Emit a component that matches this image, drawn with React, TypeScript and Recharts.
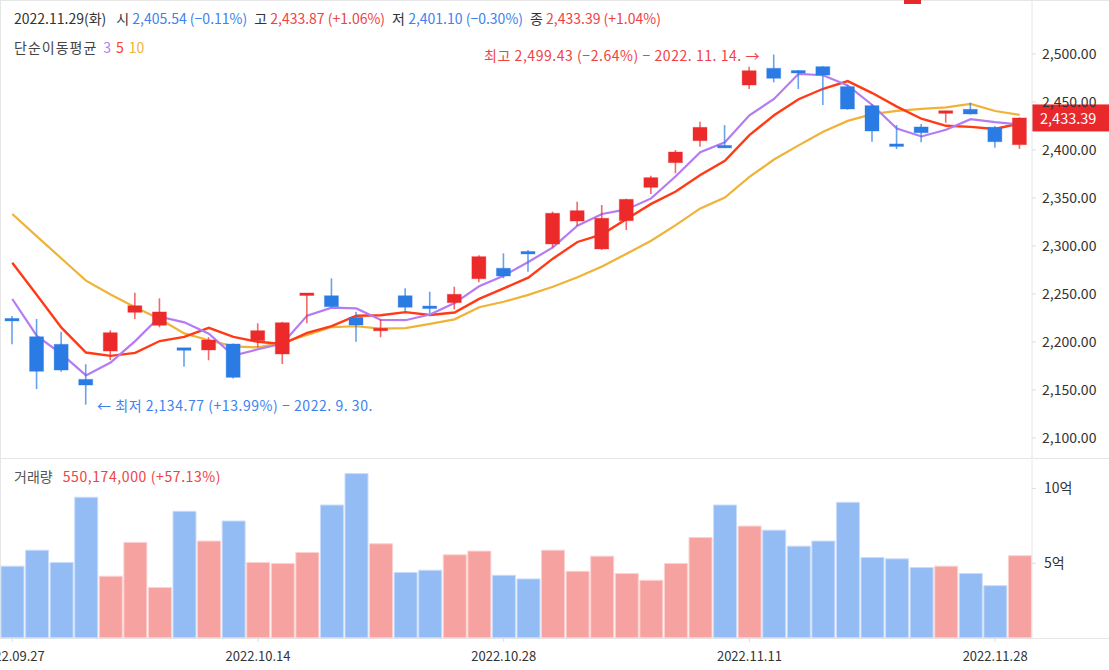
import React from 'react';
import { ComposedChart, Bar, Line, XAxis, YAxis, Cell, ReferenceDot, ReferenceLine } from 'recharts';

// trading days shown on the chart (one bar each)
const DATES = [
  '2022.09.27', '2022.09.28', '2022.09.29', '2022.09.30', '2022.10.04', '2022.10.06', '2022.10.07',
  '2022.10.11', '2022.10.12', '2022.10.13', '2022.10.14', '2022.10.17', '2022.10.18', '2022.10.19',
  '2022.10.20', '2022.10.21', '2022.10.24', '2022.10.25', '2022.10.26', '2022.10.27', '2022.10.28',
  '2022.10.31', '2022.11.01', '2022.11.02', '2022.11.03', '2022.11.04', '2022.11.07', '2022.11.08',
  '2022.11.09', '2022.11.10', '2022.11.11', '2022.11.14', '2022.11.15', '2022.11.16', '2022.11.17',
  '2022.11.18', '2022.11.21', '2022.11.22', '2022.11.23', '2022.11.24', '2022.11.28', '2022.11.29',
];

const OPEN = [
  2223.6, 2205.5, 2197.6, 2161.1, 2190.6, 2230.9, 2217.4, 2193.0, 2191.7, 2197.9, 2201.4, 2187.5,
  2249.0, 2248.2, 2225.7, 2211.8, 2248.2, 2236.8, 2241.0, 2265.9, 2276.8, 2293.5, 2302.1, 2326.0,
  2296.9, 2326.4, 2361.1, 2386.8, 2409.7, 2404.6, 2467.7, 2485.1, 2482.0, 2486.8, 2466.0, 2446.2,
  2405.5, 2424.0, 2438.2, 2442.4, 2423.6, 2405.54,
];
const HIGH = [
  2227.0, 2224.0, 2210.7, 2176.8, 2212.2, 2251.4, 2245.5, 2193.5, 2205.0, 2198.5, 2219.5, 2221.0,
  2251.0, 2266.3, 2231.6, 2223.6, 2255.9, 2252.4, 2257.6, 2290.3, 2292.4, 2295.8, 2335.8, 2346.1,
  2342.7, 2349.2, 2373.2, 2400.0, 2429.5, 2426.0, 2486.8, 2499.43, 2483.3, 2487.2, 2467.7, 2447.6,
  2426.0, 2427.1, 2441.0, 2449.3, 2425.0, 2433.87,
];
const LOW = [
  2197.6, 2151.0, 2169.0, 2134.77, 2181.2, 2224.0, 2215.3, 2174.3, 2181.0, 2162.0, 2194.5, 2177.1,
  2219.5, 2236.0, 2200.3, 2204.9, 2231.6, 2229.9, 2234.0, 2262.2, 2266.4, 2273.3, 2298.6, 2320.8,
  2296.0, 2316.7, 2354.2, 2375.7, 2403.4, 2402.0, 2463.5, 2470.5, 2463.5, 2446.9, 2442.0, 2408.6,
  2401.0, 2408.0, 2428.4, 2437.0, 2402.4, 2401.1,
];
const CLOSE = [
  2222.9, 2169.5, 2170.8, 2155.2, 2209.7, 2237.8, 2231.3, 2192.4, 2202.1, 2163.2, 2211.8, 2220.1,
  2250.5, 2236.8, 2217.7, 2214.2, 2236.2, 2235.5, 2249.7, 2288.9, 2268.75, 2292.5, 2334.1, 2336.8,
  2328.9, 2348.6, 2371.2, 2397.9, 2423.6, 2402.4, 2482.6, 2474.7, 2481.0, 2478.1, 2442.7, 2419.8,
  2404.5, 2418.0, 2440.9, 2437.5, 2408.6, 2433.39,
];

// simple moving averages as drawn
const MA3 = [
  2244.8, 2206.3, 2187.7, 2165.2, 2178.6, 2200.9, 2226.3, 2220.5, 2208.6, 2185.9, 2192.4, 2198.4,
  2227.5, 2235.8, 2235.0, 2222.9, 2222.7, 2228.6, 2240.5, 2258.0, 2269.1, 2283.4, 2298.5, 2321.1,
  2333.3, 2338.1, 2349.6, 2372.6, 2397.6, 2408.0, 2436.2, 2453.2, 2479.4, 2477.9, 2467.3, 2446.9,
  2422.3, 2414.1, 2421.1, 2432.1, 2429.0, 2426.5,
];
const MA5 = [
  2282.6, 2249.0, 2214.9, 2189.0, 2185.6, 2188.6, 2201.0, 2205.3, 2214.7, 2205.4, 2200.2, 2197.9,
  2209.5, 2216.5, 2227.4, 2227.9, 2231.1, 2228.1, 2230.7, 2244.9, 2255.8, 2267.1, 2286.8, 2304.2,
  2312.2, 2328.2, 2343.9, 2356.7, 2374.0, 2388.7, 2415.5, 2436.2, 2452.9, 2463.8, 2471.8, 2459.3,
  2445.2, 2432.6, 2425.2, 2424.1, 2421.9, 2427.7,
];
const MA10 = [
  2333.3, 2310.0, 2287.0, 2263.9, 2249.5, 2236.3, 2224.0, 2209.0, 2201.8, 2195.5, 2194.4, 2199.5,
  2207.4, 2215.6, 2216.4, 2214.0, 2214.5, 2218.8, 2223.6, 2236.2, 2241.9, 2249.1, 2257.5, 2267.5,
  2278.6, 2292.0, 2305.5, 2321.8, 2339.2, 2350.5, 2371.9, 2390.1, 2404.8, 2418.9, 2430.3, 2437.4,
  2440.8, 2442.8, 2444.5, 2448.0, 2440.6, 2436.5,
];

// volume in 억 (100 million shares)
const VOLUME = [
  4.8, 5.87, 5.05, 9.41, 4.13, 6.39, 3.37, 8.47, 6.48, 7.82, 5.05, 4.98, 5.72, 8.89, 10.99, 6.3,
  4.38, 4.53, 5.56, 5.81, 4.19, 3.95, 5.87, 4.46, 5.47, 4.31, 3.86, 4.98, 6.72, 8.89, 7.48, 7.21,
  6.14, 6.48, 9.07, 5.38, 5.29, 4.71, 4.8, 4.31, 3.5, 5.5,
];

const PRICE_TICKS = [2100, 2150, 2200, 2250, 2300, 2350, 2400, 2450, 2500];
const VOLUME_TICKS = [5, 10];
const DATE_TICKS = ['2022.09.27', '2022.10.14', '2022.10.28', '2022.11.11', '2022.11.28'];

const FONT = "'Noto Sans CJK KR', 'Noto Sans', sans-serif";
const UP = '#ec2a2a';
const DOWN = '#2a7be4';
const UP_VOL = '#f6a2a1';
const DOWN_VOL = '#93bbf4';
const TXT_RED = '#ef4343';
const TXT_BLUE = '#3d82ef';
const GRID = '#e6e6e6';

const data = DATES.map((date, i) => ({
  date,
  open: OPEN[i],
  high: HIGH[i],
  low: LOW[i],
  close: CLOSE[i],
  range: [LOW[i], HIGH[i]],
  ma3: MA3[i],
  ma5: MA5[i],
  ma10: MA10[i],
  volume: VOLUME[i],
  up: CLOSE[i] >= OPEN[i],
}));

const last = data[data.length - 1];
const hiIdx = HIGH.indexOf(Math.max(...HIGH));
const loIdx = LOW.indexOf(Math.min(...LOW));

const fmt = (v: number) =>
  v.toLocaleString('en-US', { minimumFractionDigits: 2, maximumFractionDigits: 2 });

function Candle(props: any) {
  const { x, y, width, height, payload } = props;
  if (x == null || y == null) return null;
  const top = Math.min(y, y + height);
  const span = Math.abs(height);
  const { open, close, high, low } = payload;
  const color = close >= open ? UP : DOWN;
  const yOf = (v: number) => top + ((high - v) / (high - low)) * span;
  let bodyTop = yOf(Math.max(open, close));
  let bodyH = yOf(Math.min(open, close)) - bodyTop;
  if (bodyH < 2.5) {
    bodyTop -= (2.5 - bodyH) / 2;
    bodyH = 2.5;
  }
  const cx = x + width / 2;
  return (
    <g>
      <line x1={cx} x2={cx} y1={top} y2={top + span} stroke={color} strokeOpacity={0.7} strokeWidth={1.6} />
      <rect x={x} y={bodyTop} width={width} height={bodyH} fill={color} stroke={color} strokeOpacity={0.35} strokeWidth={1} />
    </g>
  );
}

function HighLabel(props: any) {
  const vb = props.viewBox || {};
  return (
    <text x={vb.x - 14} y={vb.y} textAnchor="end" dominantBaseline="central" fill={TXT_RED} fontSize={14} letterSpacing={0.55} fontFamily={FONT}>
      {`최고 ${fmt(HIGH[hiIdx])} (−2.64%) − 2022. 11. 14. →`}
    </text>
  );
}

function LowLabel(props: any) {
  const vb = props.viewBox || {};
  return (
    <text x={vb.x + 11} y={vb.y} textAnchor="start" dominantBaseline="central" fill={TXT_BLUE} fontSize={14} letterSpacing={0.55} fontFamily={FONT}>
      {`← 최저 ${fmt(LOW[loIdx])} (+13.99%) − 2022. 9. 30.`}
    </text>
  );
}

function PriceTag(props: any) {
  const vb = props.viewBox || {};
  const x0 = vb.x + vb.width;
  return (
    <g>
      <rect x={x0} y={vb.y - 13.5} width={77} height={27} fill="#e8282a" />
      <text x={x0 + 8} y={vb.y} dominantBaseline="central" fill="#fff" fontSize={14.5} fontFamily={FONT}>
        {fmt(last.close)}
      </text>
    </g>
  );
}

const yTickStyle = { fill: '#333', fontSize: 14, fontFamily: FONT };
const xTickStyle = { fill: '#333', fontSize: 13, fontFamily: FONT };

export default function App() {
  return (
    <div
      style={{
        position: 'absolute',
        left: 0,
        top: 0,
        width: 1109,
        height: 670,
        background: '#fff',
        overflow: 'hidden',
        fontFamily: FONT,
      }}
    >
      {/* frame lines */}
      <div style={{ position: 'absolute', left: 0, top: 0, width: 1109, height: 1, background: GRID }} />
      <div style={{ position: 'absolute', left: 0, top: 0, width: 1, height: 638, background: GRID }} />
      <div style={{ position: 'absolute', left: 0, top: 458, width: 1109, height: 1, background: GRID }} />
      <div style={{ position: 'absolute', left: 0, top: 638, width: 1109, height: 1, background: GRID }} />
      <div style={{ position: 'absolute', left: 904, top: 0, width: 17, height: 4, background: '#e8282a' }} />

      <div style={{ position: 'absolute', left: 0, top: 0 }}>
        <ComposedChart width={1109} height={458} data={data} margin={{ top: 0, right: 0, bottom: 0, left: 0 }}>
          <XAxis dataKey="date" hide />
          <YAxis
            orientation="right"
            width={77}
            domain={[2079.17, 2556.25]}
            ticks={PRICE_TICKS}
            tickFormatter={fmt}
            tick={yTickStyle}
            tickSize={4}
            tickMargin={6}
            axisLine={{ stroke: GRID }}
            tickLine={{ stroke: '#ddd' }}
          />
          <Line dataKey="ma10" stroke="#f0b237" strokeWidth={2.2} dot={false} activeDot={false} isAnimationActive={false} />
          <Line dataKey="ma5" stroke="#ff3a14" strokeWidth={2.4} dot={false} activeDot={false} isAnimationActive={false} />
          <Line dataKey="ma3" stroke="#b57cf2" strokeWidth={2.2} dot={false} activeDot={false} isAnimationActive={false} />
          <Bar dataKey="range" barSize={14} shape={<Candle />} activeBar={false} isAnimationActive={false} zIndex={500} />
          <ReferenceDot x={DATES[hiIdx]} y={HIGH[hiIdx]} r={0} stroke="none" label={<HighLabel />} />
          <ReferenceDot x={DATES[loIdx]} y={LOW[loIdx]} r={0} stroke="none" label={<LowLabel />} />
          <ReferenceLine y={last.close} stroke="none" label={<PriceTag />} />
        </ComposedChart>
      </div>

      <div style={{ position: 'absolute', left: 0, top: 458 }}>
        <ComposedChart width={1109} height={212} data={data} margin={{ top: 2, right: 0, bottom: 0, left: 0 }} barCategoryGap={1}>
          <XAxis
            dataKey="date"
            ticks={DATE_TICKS}
            interval={0}
            height={32}
            tick={xTickStyle}
            tickSize={4}
            tickMargin={10}
            axisLine={{ stroke: GRID }}
            tickLine={{ stroke: '#ddd' }}
          />
          <YAxis
            orientation="right"
            width={77}
            domain={[0, 11.9]}
            ticks={VOLUME_TICKS}
            tickFormatter={(v: number) => `${v}억`}
            tick={yTickStyle}
            tickSize={4}
            tickMargin={8}
            axisLine={{ stroke: GRID }}
            tickLine={{ stroke: '#ddd' }}
          />
          <Bar dataKey="volume" activeBar={false} isAnimationActive={false}>
            {data.map((d, i) => (
              <Cell key={i} fill={d.up ? UP_VOL : DOWN_VOL} stroke={d.up ? '#fbd2d1' : '#cadcfa'} strokeWidth={1} />
            ))}
          </Bar>
        </ComposedChart>
      </div>

      {/* header */}
      <div style={{ position: 'absolute', left: 14, top: 8, fontSize: 14, lineHeight: '20px', color: '#333', whiteSpace: 'pre' }}>
        <span>2022.11.29(화)</span>
        <span style={{ marginLeft: 10 }}>시 </span>
        <span style={{ color: TXT_BLUE }}>{`${fmt(OPEN[41])} (−0.11%)`}</span>
        <span style={{ marginLeft: 7 }}>고 </span>
        <span style={{ color: TXT_RED }}>{`${fmt(HIGH[41])} (+1.06%)`}</span>
        <span style={{ marginLeft: 7 }}>저 </span>
        <span style={{ color: TXT_BLUE }}>{`${fmt(LOW[41])} (−0.30%)`}</span>
        <span style={{ marginLeft: 7 }}>종 </span>
        <span style={{ color: TXT_RED }}>{`${fmt(CLOSE[41])} (+1.04%)`}</span>
      </div>
      <div style={{ position: 'absolute', left: 14, top: 37, fontSize: 14, lineHeight: '20px', color: '#444', whiteSpace: 'pre' }}>
        <span style={{ letterSpacing: 1 }}>단순이동평균</span>
        <span style={{ color: '#b37ff2', marginLeft: 6 }}>3</span>
        <span style={{ color: '#ff4020', marginLeft: 5 }}>5</span>
        <span style={{ color: '#f2b23a', marginLeft: 5 }}>10</span>
      </div>
      <div style={{ position: 'absolute', left: 14, top: 466, fontSize: 14, lineHeight: '20px', color: '#555', whiteSpace: 'pre' }}>
        <span>거래량</span>
        <span style={{ color: TXT_RED, marginLeft: 10, letterSpacing: 0.6 }}>
          {`${Math.round(last.volume * 1e8 + 174000).toLocaleString('en-US')} (+57.13%)`}
        </span>
      </div>
    </div>
  );
}
